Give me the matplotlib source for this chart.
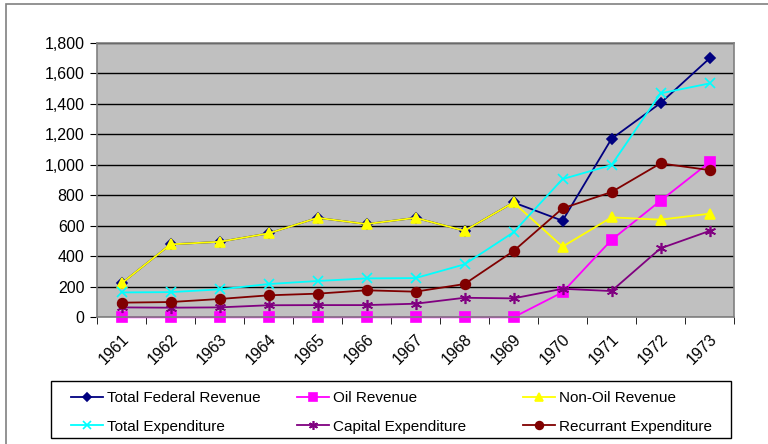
import matplotlib
matplotlib.use("Agg")
from matplotlib import pyplot as plt
from matplotlib.patches import Rectangle
from matplotlib.ticker import FuncFormatter, FixedLocator

years = ['1961', '1962', '1963', '1964', '1965', '1966', '1967',
         '1968', '1969', '1970', '1971', '1972', '1973']

total_federal_revenue = [222, 478, 495, 550, 652, 611, 652, 567, 753, 633, 1170, 1404, 1697]
oil_revenue = [0, 0, 0, 0, 0, 0, 0, 0, 0, 164, 507, 764, 1016]
non_oil_revenue = [222, 478, 495, 550, 652, 611, 652, 567, 753, 463, 655, 640, 679]
total_expenditure = [163, 165, 183, 218, 238, 255, 257, 347, 557, 906, 998, 1468, 1533]
capital_expenditure = [65, 63, 65, 79, 80, 80, 89, 128, 124, 187, 172, 452, 566]
recurrant_expenditure = [96, 100, 120, 144, 155, 177, 168, 218, 434, 714, 821, 1009, 965]

plt.rcParams['font.family'] = ['Liberation Sans', 'DejaVu Sans']

W, H = 768, 444
fig = plt.figure(figsize=(W / 100, H / 100), dpi=100)
ax = fig.add_axes([97 / W, 1 - 317.3 / H, 637 / W, 274.6 / H])

# chart frame
fig.patches.append(Rectangle((6 / W, -0.1), 1.2, 1.1 - 4 / H, transform=fig.transFigure,
                             fill=False, edgecolor='#808080', linewidth=1.2, zorder=-1))

ax.set_facecolor('#C0C0C0')
for s in ax.spines.values():
    s.set_color('#808080')
    s.set_linewidth(1.2)

x = list(range(len(years)))
series = [
    ('Total Federal Revenue', total_federal_revenue, '#000080', 'D', 5),
    ('Oil Revenue', oil_revenue, '#FF00FF', 's', 7),
    ('Non-Oil Revenue', non_oil_revenue, '#FFFF00', '^', 7.5),
    ('Total Expenditure', total_expenditure, '#00FFFF', 'x', 7),
    ('Capital Expenditure', capital_expenditure, '#800080', (6, 2, 0), 8),
    ('Recurrant Expenditure', recurrant_expenditure, '#800000', 'o', 7),
]
lines = {}
for name, vals, col, mk, ms in series:
    ln, = ax.plot(x, vals, color=col, marker=mk, markersize=ms, linewidth=1.3,
                  markeredgewidth=1.2, label=name, clip_on=False)
    lines[name] = ln

ax.set_xlim(-0.5, len(years) - 0.5)
ax.set_ylim(0, 1800)
ax.set_yticks(range(0, 1801, 200))
ax.yaxis.set_major_formatter(FuncFormatter(lambda v, p: f'{int(v):,}'))
ax.grid(axis='y', color='black', linewidth=1)
ax.set_axisbelow(True)

ax.xaxis.set_major_locator(FixedLocator(x))
ax.set_xticklabels(years, rotation=45, ha='right', rotation_mode='anchor')
ax.xaxis.set_minor_locator(FixedLocator([i - 0.5 for i in range(len(years) + 1)]))
ax.tick_params(axis='x', which='major', length=0, pad=10, labelsize=11.5)
ax.tick_params(axis='x', which='minor', length=5, color='black', direction='out')
ax.tick_params(axis='y', length=5, color='black', labelsize=11.5, pad=4)

# legend: box plus three fixed-pitch columns
fig.patches.append(Rectangle((51 / W, 1 - 438 / H), 680 / W, 57 / H, transform=fig.transFigure,
                             fill=True, facecolor='white', edgecolor='black', linewidth=1))
columns = [['Total Federal Revenue', 'Total Expenditure'],
           ['Oil Revenue', 'Capital Expenditure'],
           ['Non-Oil Revenue', 'Recurrant Expenditure']]
for i, names in enumerate(columns):
    leg = fig.legend([lines[n] for n in names], names, loc='upper left',
                     bbox_to_anchor=((71 + 226 * i) / W, 1 - 391 / H),
                     frameon=False, borderpad=0, borderaxespad=0, fontsize=11,
                     handlelength=2.1, handletextpad=0.25, labelspacing=0.95)
    for h in leg.legend_handles:
        h.set_markersize(h.get_markersize() * 0.8)

fig.savefig('out.png', dpi=100)
